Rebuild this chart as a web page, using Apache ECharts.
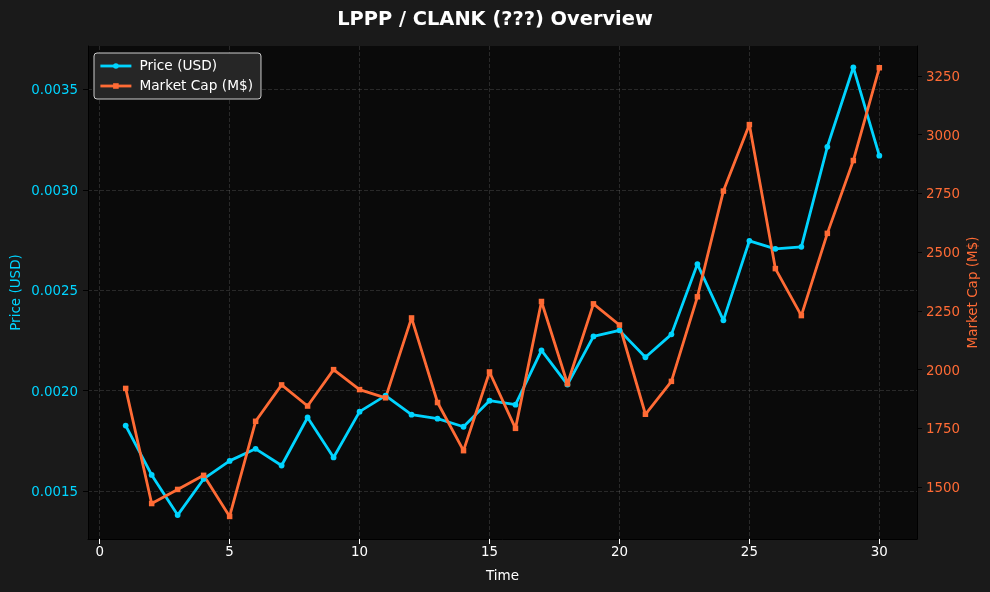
<!DOCTYPE html>
<html>
<head>
<meta charset="utf-8">
<style>
html,body{margin:0;padding:0;background:#1a1a1a;}
#main{width:990px;height:592px;}
</style>
<script src="https://cdn.jsdelivr.net/npm/echarts@6/dist/echarts.min.js"></script>
</head>
<body>
<div id="main"></div>
<script>
var days=[1,2,3,4,5,6,7,8,9,10,11,12,13,14,15,16,17,18,19,20,21,22,23,24,25,26,27,28,29,30];
var price=[0.001826,0.00158,0.00138,0.00156,0.00165,0.00171,0.001627,0.001866,0.001667,0.001895,0.001975,0.00188,0.00186,0.00182,0.00195,0.00193,0.0022,0.00203,0.00227,0.0023,0.002166,0.00228,0.00263,0.00235,0.002746,0.002706,0.002716,0.003214,0.00361,0.00317];
var marketCap=[1920,1430,1490,1550,1375,1780,1935,1845,2000,1915,1880,2220,1860,1655,1990,1750,2290,1940,2280,2190,1810,1950,2310,2760,3043,2430,2230,2580,2890,3285];
var xTicks=[0,5,10,15,20,25,30];
var priceTicks=[0.0015,0.002,0.0025,0.003,0.0035];
var capTicks=[1500,1750,2000,2250,2500,2750,3000,3250];

var font='"DejaVu Sans"';
var cyan='#00d4ff';
var orange='#ff6b35';

function pairs(ys){
    var out=[];
    for(var i=0;i<days.length;i++){
        out.push([days[i],ys[i]]);
    }
    return out;
}

var myChart=echarts.init(document.getElementById('main'));

var option={
    backgroundColor:'#1a1a1a',
    animation:false,
    textStyle:{fontFamily:font},
    title:{
        text:'LPPP / CLANK (???) Overview',
        left:'center',
        top:5,
        textStyle:{color:'#fff',fontSize:19.4,fontWeight:'bold',fontFamily:font}
    },
    legend:{
        left:94,
        top:53,
        orient:'vertical',
        itemWidth:31,
        itemHeight:7,
        itemGap:6,
        padding:[6,8,6,5],
        backgroundColor:'#262626',
        borderColor:'#cccccc',
        borderWidth:1,
        borderRadius:3,
        lineStyle:{width:2.8},
        textStyle:{color:'#fff',fontSize:13.7,fontFamily:font,padding:[0,0,0,3]},
        data:['Price (USD)','Market Cap (M$)']
    },
    grid:{left:88,right:73,top:46,bottom:53,backgroundColor:'#0a0a0a',show:true,borderWidth:0,outerBoundsMode:'none'},
    xAxis:{
        type:'value',
        min:-0.45,
        max:31.45,
        name:'Time',
        nameLocation:'middle',
        nameGap:30,
        nameMoveOverlap:false,
        nameTextStyle:{color:'#fff',fontSize:13.5,fontFamily:font},
        axisLine:{show:true,onZero:false,lineStyle:{color:'#000'}},
        axisTick:{show:true,length:5,customValues:xTicks,lineStyle:{color:'#fff'}},
        axisLabel:{color:'#fff',fontSize:13.4,fontFamily:font,margin:7,customValues:xTicks,showMinLabel:true,showMaxLabel:true},
        splitLine:{show:true,lineStyle:{color:'rgba(255,255,255,0.13)',type:[4,2],width:1}}
    },
    yAxis:[{
        type:'value',
        min:0.001261,
        max:0.003716,
        name:'Price (USD)',
        nameLocation:'middle',
        nameGap:65,
        nameMoveOverlap:false,
        nameTextStyle:{color:cyan,fontSize:13.5,fontFamily:font},
        axisLine:{show:true,onZero:false,lineStyle:{color:'#000'}},
        axisTick:{show:true,length:5,customValues:priceTicks,lineStyle:{color:'#000'}},
        axisLabel:{color:cyan,fontSize:13.4,fontFamily:font,margin:10,verticalAlign:'top',lineHeight:3,customValues:priceTicks,formatter:function(v){return v.toFixed(4);}},
        splitLine:{show:true,lineStyle:{color:'rgba(255,255,255,0.13)',type:[4,2],width:1}}
    },{
        type:'value',
        position:'right',
        min:1279,
        max:3377.6,
        name:'Market Cap (M$)',
        nameLocation:'middle',
        nameGap:49,
        nameMoveOverlap:false,
        nameTextStyle:{color:orange,fontSize:13.5,fontFamily:font},
        axisLine:{show:true,onZero:false,lineStyle:{color:'#000'}},
        axisTick:{show:true,length:5,customValues:capTicks,lineStyle:{color:'#000'}},
        axisLabel:{color:orange,fontSize:13.4,fontFamily:font,margin:9,verticalAlign:'top',lineHeight:3,customValues:capTicks,formatter:function(v){return String(v);}},
        splitLine:{show:false}
    }],
    series:[{
        name:'Price (USD)',
        type:'line',
        yAxisIndex:0,
        data:pairs(price),
        symbol:'circle',
        symbolSize:5.8,
        showSymbol:true,
        lineStyle:{color:cyan,width:2.8},
        itemStyle:{color:cyan}
    },{
        name:'Market Cap (M$)',
        type:'line',
        yAxisIndex:1,
        data:pairs(marketCap),
        symbol:'rect',
        symbolSize:5.5,
        showSymbol:true,
        lineStyle:{color:orange,width:2.8},
        itemStyle:{color:orange}
    }]
};

myChart.setOption(option);
</script>
</body>
</html>
